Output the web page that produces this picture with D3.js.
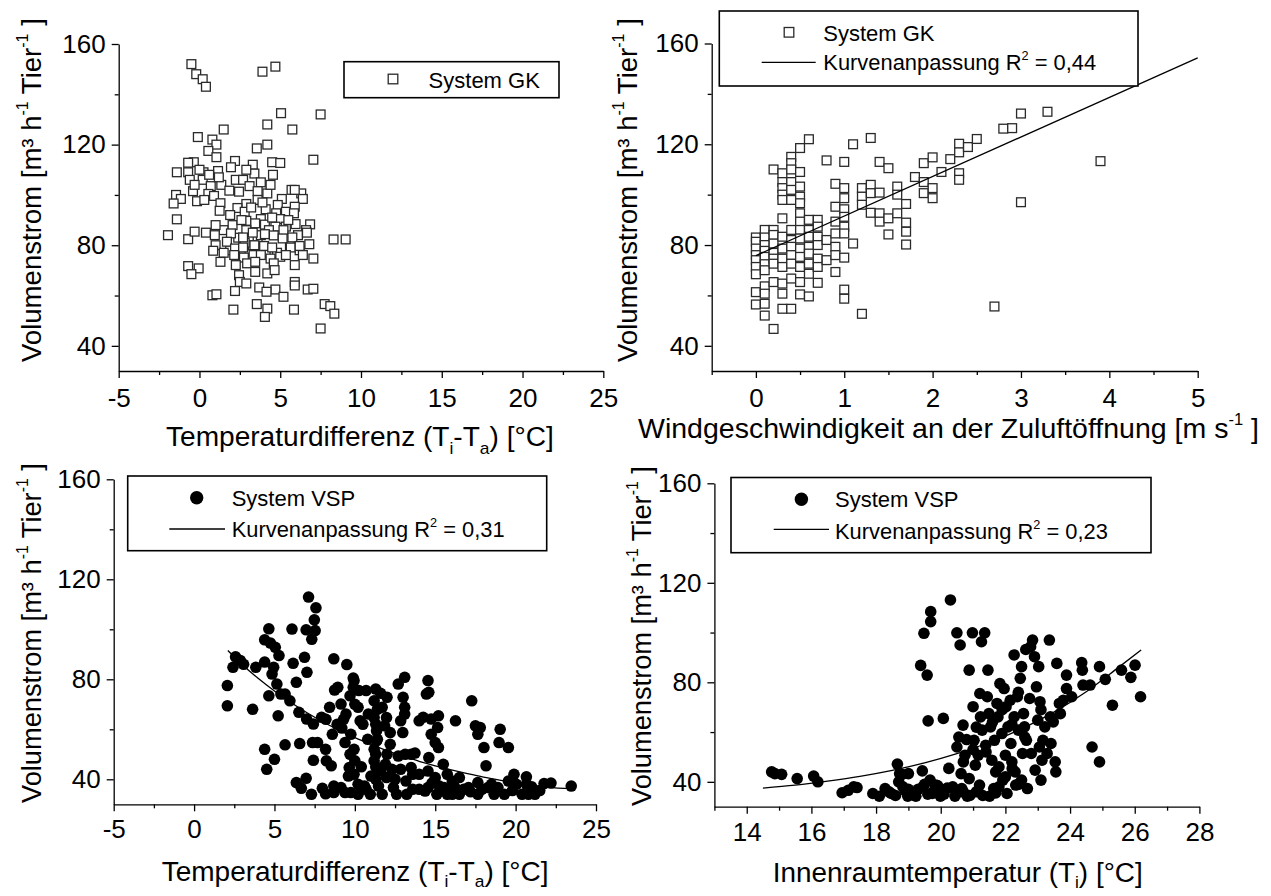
<!DOCTYPE html>
<html><head><meta charset="utf-8">
<script src="https://cdn.jsdelivr.net/npm/d3@7"></script>
<style>
body{margin:0;background:#fff}
svg{display:block}
text{font-family:"Liberation Sans",Arial,sans-serif;fill:#000;white-space:pre}
</style>
</head><body>
<svg id="c" width="1271" height="896"></svg>
<script>
// ---------------- DATA ----------------
const yMajorTicks = [40, 80, 120, 160];
const yMinorTicks = [60, 100, 140];
const tempTicks = [-5, 0, 5, 10, 15, 20, 25];
const tempMinorTicks = [-2.5, 2.5, 7.5, 12.5, 17.5, 22.5];
const windTicks = [0, 1, 2, 3, 4, 5];
const windMinorTicks = [-0.5, 0.5, 1.5, 2.5, 3.5, 4.5];
const innenTicks = [14, 16, 18, 20, 22, 24, 26, 28];
const innenMinorTicks = [13, 15, 17, 19, 21, 23, 25, 27];

// System GK: volume flow vs temperature difference
const gkTempPoints = [
[-0.5,152],[-0.2,148],[0.2,146],[0.4,143],[3.9,149],[4.7,151],[5.05,132.5],[7.5,132],[4.2,128],[1.5,126],[5.75,126],
[-0.1,123],[0.8,122],[1.05,120],[3.55,118.5],[4.2,120],[7.05,114],[0.55,117.5],[1.05,115],[2.2,113.5],[-0.35,113],
[-0.7,112.8],[3.3,112],[4.5,113],[5.0,112.7],[-1.4,109],[-0.7,109],[0.25,109],[1.15,109.5],[4.55,108],[1.95,111],
[3.4,108.5],[-0.6,106],[0.2,106],[0.7,103.5],[2.25,106],[2.7,106],[3.1,103.5],[3.8,105],[-1.45,100],[-1.15,98.4],
[-1.6,96.6],[-0.4,101.5],[-0.15,97.5],[0.55,100.4],[0.9,99.6],[1.35,104],[1.85,101.7],[2.45,101.3],[3.6,101.5],
[4.2,100.6],[5.1,98.4],[5.7,102],[6.3,100.6],[6.4,98.4],[1.3,96.7],[2.9,96.4],[3.6,98],[4.85,96],[5.9,95.3],
[1.25,93.7],[2.35,94.8],[2.8,93.3],[4.1,94.3],[4.75,92.7],[5.35,93.3],[-1.4,90.3],[3.8,90.4],[5.0,90.4],[5.85,92.7],
[6.85,88.3],[1.5,86],[2.05,88],[2.9,89.7],[3.45,88.7],[4.05,88.2],[4.7,87.4],[5.35,87.4],[5.95,88.4],[6.6,86],
[0.0,110],[-0.3,104],[0.6,108],[1.2,107],[2.9,110],[4.4,104],[5.9,102],[0.3,98],[1.9,92],[2.6,90],[3.2,95],[3.9,97],
[4.5,91],[5.5,90],[6.1,84],[2.9,86],[3.6,82],[4.3,86],[5.6,80],[1.9,78],[3.1,78],[4.8,77],[6.2,78],[2.4,83],[3.8,84],
[5.2,86],[1.0,88],[3.3,80],[4.1,77],[2.8,81],
[-1.95,84],[-0.7,82.4],[-0.3,85.4],[0.4,85],[0.95,84],[1.95,84.7],[2.7,83.1],[3.3,85],[4.05,84.4],[4.6,83.9],
[5.15,82.7],[5.75,83.1],[6.65,85],[8.3,82.3],[9.05,82.3],[1.0,80],[1.7,81.4],[2.2,78.7],[2.7,79.1],[3.4,80],[4.0,79.7],
[4.5,79.1],[5.65,79.1],[6.2,79.7],[6.8,80.4],[0.85,77.8],[1.5,77],[2.15,76.1],[2.75,75.1],[3.35,76.1],[3.8,76.1],
[4.4,74.7],[5.0,75.4],[5.35,76.1],[6.4,76.1],[7.05,74.7],[1.3,73.4],[2.25,72.1],[2.95,72.8],[3.45,73.4],[4.6,72.8],
[5.9,72.1],[-0.7,71.7],[-0.05,70.8],[-0.5,68.5],[2.45,68.1],[3.45,69.4],[4.2,68.8],[4.65,70.1],[2.5,65.4],[2.9,64.8],
[5.9,65.4],[5.9,64],[3.7,63.2],[4.7,62.4],[6.7,62.4],[7.05,62.7],[2.2,61.8],[0.8,60.1],[1.05,60.5],[4.15,61.5],
[3.55,56.6],[4.2,54.8],[5.2,59.5],[5.85,54.4],[2.1,54.4],[4.05,51.5],[7.75,56.6],[8.1,55.8],[8.35,52.8],[7.5,46.9]
];

// System GK: volume flow vs wind speed
const gkWindPoints = [
[0,83],[0,81.3],[0,78.6],[0,76],[0,74],[0,71.3],[0,68.4],[0,61.3],[0,56.4],
[0.1,86],[0.1,83],[0.1,80],[0.1,77.7],[0.1,75.3],[0.1,72.4],[0.1,70],[0.1,63.6],[0.1,60.7],[0.1,56.7],[0.1,52],
[0.2,110],[0.2,86],[0.2,84],[0.2,80.6],[0.2,76.9],[0.2,74.6],[0.2,72.6],[0.2,65.3],[0.2,46.7],
[0.3,108.5],[0.3,105],[0.3,102.6],[0.3,100],[0.3,97.9],[0.3,90.6],[0.3,83.3],[0.3,78.6],[0.3,74.6],[0.3,71.3],[0.3,64.7],[0.3,60.7],[0.3,54.7],
[0.4,115],[0.4,112.5],[0.4,110],[0.4,105],[0.4,101.9],[0.4,97.9],[0.4,86],[0.4,82],[0.4,79.3],[0.4,76],[0.4,72.6],[0.4,66.7],[0.4,54.7],
[0.5,118.5],[0.5,109],[0.5,103.2],[0.5,99.2],[0.5,96.6],[0.5,92.6],[0.5,89.3],[0.5,86],[0.5,82.6],[0.5,78.6],[0.5,75.3],[0.5,71.3],[0.5,65.3],[0.5,60.4],
[0.6,122],[0.6,90],[0.6,86],[0.6,83.3],[0.6,79.3],[0.6,76.6],[0.6,72.6],[0.6,68.6],[0.6,59.6],
[0.7,90],[0.7,87.3],[0.7,83.3],[0.7,80],[0.7,74.6],[0.7,71.3],[0.7,65],
[0.8,113.6],[0.8,82],[0.8,74],
[0.9,104.3],[0.9,95.2],[0.9,89.3],[0.9,84.6],[0.9,79.3],[0.9,76],[0.9,69.3],
[1.0,113],[1.0,102.6],[1.0,98.6],[1.0,94.2],[1.0,91.2],[1.0,87.3],[1.0,84.6],[1.0,75],[1.0,62.3],[1.0,58.7],
[1.1,120],[1.1,80.6],[1.2,52.7],[1.2,102.6],[1.2,99.2],[1.2,96],
[1.3,122.5],[1.3,103.9],[1.3,100.6],[1.3,92.8],[1.4,113],[1.4,100.8],[1.4,92.6],[1.4,89.3],
[1.5,110.5],[1.5,90.6],[1.5,84.2],[1.6,103.2],[1.6,100],[1.6,92.6],
[1.7,96.3],[1.7,88.9],[1.7,85.3],[1.7,80.2],[1.8,107],[1.9,112.5],[1.9,105],[1.9,100.6],
[2.0,114.8],[2.0,102.6],[2.0,98.6],[2.1,109],[2.2,114.1],[2.3,120.2],[2.3,116.8],[2.3,108.5],[2.3,105.9],
[2.4,118.9],[2.5,122.1],[2.7,55.6],[2.8,126.2],[2.9,126.4],[3.0,132.2],[3.0,97],[3.3,132.9],[3.9,113.3]
];

// System VSP: volume flow vs temperature difference
const vspTempPoints = [
[2.07,77.5],[2.07,69.4],[2.58,89],[2.42,84.8],[2.88,87.5],[3.08,86],[3.84,84.8],[3.64,68],[4.39,95.8],[4.65,100.2],
[4.39,86.9],[4.85,82.1],[4.75,94.5],[5.05,92.8],[5.28,89.5],[4.95,84.8],[4.65,73.4],[5.15,78.1],[5.4,74.1],[5.23,65.4],
[5.66,74.1],[5.96,71.4],[4.39,52],[5.0,48],[4.52,44],[5.66,53.8],[6.09,100.1],[6.16,86.4],[6.36,78.8],[6.52,66.8],
[6.57,54.3],[7.0,64.1],[6.87,88.8],[7.02,82.8],[6.97,99.8],[7.12,112.9],[7.58,108.6],[7.48,103.8],[7.53,99.5],[7.32,96],
[7.42,62.1],[7.37,54.7],[7.42,47.6],[6.36,38.7],[6.67,36.4],[6.97,40.4],[7.3,34],[7.93,64.8],[7.68,54.7],[8.18,52],
[8.23,47.4],[8.53,45.4],[8.43,68.8],[8.74,75.7],[8.94,76.8],[8.69,88.2],[9.5,85.9],[9.9,80.5],[9.95,79.5],[9.14,70.1],
[9.45,66.1],[9.9,76.8],[10.25,75.5],[9.7,73.4],[10.2,68.8],[10.7,75.5],[9.19,60.5],[9.75,58],[10.33,63.4],[10.84,66.1],
[11.2,71.4],[11.3,76.1],[11.6,74.4],[11.7,68.8],[12.0,72.8],[11.97,64.7],[11.2,64.7],[11.35,59.4],[11.85,61.4],[12.2,58.7],
[9.39,54.7],[9.7,50],[9.95,52],[9.65,44.7],[10.0,47.4],[9.95,42],[10.2,38],[9.6,41.3],[9.14,36.7],[9.39,34.7],
[9.75,34.7],[8.69,34.7],[8.69,37.3],[7.98,36.4],[8.18,34.2],[10.7,36],[10.96,34],[11.0,41.3],[11.2,47.4],[11.2,52],
[11.35,55.4],[11.47,37.3],[11.6,43.3],[11.7,34],[11.9,46],[11.97,40.7],[12.0,50],[12.2,54],[12.4,36.7],[12.6,34],
[12.7,49.3],[12.85,44],[12.98,58.7],[13.13,50],[13.18,39.3],[13.23,34],[13.5,50],[13.5,44.7],[13.74,50.5],[13.6,42],
[14.0,36],[14.0,42],[14.37,35.3],[12.7,78.1],[13.1,80.8],[13.0,72.8],[13.1,68.8],[13.1,66.1],[12.85,63.4],[14.0,63.4],
[14.25,64.8],[14.45,74.1],[14.55,79.5],[14.6,74.8],[14.75,64.1],[15.2,65.4],[15.15,60.7],[15.0,54.7],[14.75,58],[15.2,52.7],
[14.6,48.7],[14.55,43.3],[15.0,40.7],[14.55,36.7],[15.1,34],[15.5,46],[15.55,36.7],[15.75,42],[16.06,39.3],[16.06,34],
[16.26,63.4],[16.5,40.7],[16.77,36],[17.07,36.7],[17.27,71.4],[17.5,61.4],[17.8,60.7],[17.65,58],[18.03,52.7],[18.16,45.4],
[17.65,38.7],[17.9,36],[17.65,34],[18.28,36.7],[18.66,34],[18.9,36.7],[19.04,60],[18.97,54.7],[19.55,52.7],[19.3,34],
[19.55,39.3],[20.05,38],[20.4,34],[20.67,38],[20.8,34],[21.2,34],[21.77,38.3],[23.46,37.3],[20.67,41],[19.9,42],
[16.5,34],[15.75,34],[15.25,37.3],[10.2,34],[10.6,37.3],[11.3,40],[11.3,45],[11.3,50],[11.4,56],[11.3,62],[11.4,68],
[10.4,45],[10.8,56],[10.5,62],[12.3,44],[12.5,40],[8.9,62],[8.6,58],[8.2,64],[9.3,64],[10.0,70],[13.6,36],[14.8,38.5],
[16.2,37],[17.2,35],[18.5,38],[19.8,35.5],[21.0,37],[22.2,38.5],[21.5,35.5]
];

// System VSP: volume flow vs indoor temperature
const vspInnenPoints = [
[14.77,44],[14.87,43.3],[15.08,43],[15.56,41.3],[16.07,42.3],[16.2,40],[16.95,35.6],[17.14,36.6],[17.31,38],[17.41,37.7],
[17.9,35.3],[18.1,34.2],[18.28,37.3],[18.47,35.3],[18.66,47.1],[18.73,43.3],[18.83,38],[18.98,34.2],[19.0,43.3],[19.23,34.2],
[19.38,86.8],[19.43,44.4],[19.45,38],[19.48,99.7],[19.58,82.9],[19.61,64.5],[19.67,40.7],[19.69,108.4],[19.69,104.4],[19.74,35.3],
[19.84,38.7],[19.99,34.2],[20.08,65.5],[20.25,45.4],[20.3,113.1],[20.37,38],[20.44,34.2],[20.5,99.9],[20.5,54],[20.56,58],
[20.6,95],[20.63,43.3],[20.65,37.3],[20.69,62.8],[20.75,50.7],[20.82,34.2],[20.88,84.9],[20.88,41.3],[20.98,99.9],[21.0,70.2],
[21.03,56.7],[21.07,46.7],[21.16,50.7],[21.2,38.7],[21.21,75.5],[21.23,66.1],[21.26,96.3],[21.28,60.8],[21.36,99.9],[21.39,54.7],
[21.44,74.2],[21.46,84.9],[21.49,67.4],[21.51,34.2],[21.54,62.1],[21.58,48.7],[21.64,37.3],[21.66,56.7],[21.7,44],[21.74,71.5],
[21.77,66.1],[21.83,79.5],[21.89,59.4],[21.92,40.7],[21.96,77.5],[22.0,50.7],[22.02,70.2],[22.05,35.3],[22.08,62.1],[22.15,72.8],
[22.17,55.4],[22.21,45.4],[22.27,91],[22.27,66.1],[22.32,38.7],[22.37,74.2],[22.4,60.8],[22.46,81.6],[22.5,86.3],[22.5,40.7],
[22.53,51.4],[22.56,67.4],[22.59,62.1],[22.63,93.2],[22.65,56.7],[22.68,37.3],[22.75,73.5],[22.78,94.3],[22.8,51.4],[22.84,97],
[22.9,90.3],[22.92,44.7],[22.96,78.2],[23.0,64.8],[23.03,86.3],[23.05,54],[23.07,72.2],[23.1,40.7],[23.13,48.7],[23.16,56.7],
[23.22,62.1],[23.29,51.4],[23.36,97],[23.39,66.1],[23.41,55.4],[23.48,64.1],[23.54,48],[23.56,44],[23.59,87.6],[23.67,71.5],
[23.7,67.4],[23.79,72.8],[23.89,82.9],[23.89,77.5],[24.05,74.2],[24.36,87.9],[24.38,84.9],[24.4,78.9],[24.62,78.9],[24.68,54],
[24.91,86.3],[24.91,48],[25.09,81.2],[25.31,70.8],[25.59,84.9],[25.88,82],[26.01,86.9],[26.18,74.2],
[18.4,36],[18.6,34.5],[18.9,36.5],[19.1,35],[19.3,37],[19.6,35],[19.8,36.5],[20.1,35],[20.2,37.5],[20.5,35.5],[20.7,36],
[20.9,34.5],[21.1,36],[21.3,34.5],[21.7,35.5],[21.8,38],[22.0,42],[22.2,48],[22.4,39],[19.9,38.5],[19.5,39],[18.7,40],
[18.8,43],[19.0,37],[21.0,53],[21.1,62],[20.8,57],[20.7,48],[21.6,64],[21.9,69],[22.2,63],[22.6,58],[22.4,76],[23.1,69],
[21.4,52],[21.8,46],[22.3,44]
];

// fitted curves
const fitWindX = [0, 5];
const fitWindY = [75.8, 154.3];
const fitTempX = [2.1, 3, 4, 5, 6, 7, 8, 9, 10, 11, 12, 13, 14, 15, 16, 17, 18, 19, 20, 21, 22, 23.5];
const fitTempY = [91.5, 85.8, 80.3, 75.3, 70.8, 66.7, 63, 59.7, 56.7, 54, 51.5, 49.3, 47.2, 45.4, 43.8, 42.3, 40.9, 39.7, 38.6, 37.6, 36.8, 36.3];
const fitInnenX = [14.5, 15.5, 16.5, 17.5, 18.5, 19.5, 20.5, 21.5, 22.5, 23.5, 24.5, 25.5, 26.2];
const fitInnenY = [37.5, 38.7, 40.3, 42.2, 44.6, 47.6, 51.3, 55.8, 61.3, 68, 76.2, 86, 93];

const seriesGK = "System GK";
const seriesVSP = "System VSP";
const fitLabel = "Kurvenanpassung R";
const r2Values = ["0,44", "0,31", "0,23"];

// ---------------- DRAWING ----------------
const svg = d3.select("#c");
const TICK_FS = 26, TITLE_FS = 28, LEG_FS = 22;
const FONT = '"Liberation Sans",Arial,sans-serif';

function richText(parent, x, y, parts, size, targetLen, rot, subShift) {
  const g = parent.append("g");
  const t = g.append("text").attr("font-size", size);
  let shift = 0;
  parts.forEach(p => {
    let target = 0, fs = size;
    if (p[1] === "sup") { target = -0.45 * size; fs = size * 0.58; }
    else if (p[1] === "sub") { target = (subShift || 0.28) * size; fs = size * 0.62; }
    t.append("tspan").attr("dy", target - shift).attr("font-size", fs).text(p[0]);
    shift = target;
  });
  let s = 1;
  if (targetLen) {
    const w = t.node().getComputedTextLength();
    s = targetLen / w;
  }
  g.attr("transform", `translate(${x},${y})` + (rot ? ` rotate(${rot})` : "") + ` scale(${s},1)`);
  return g;
}

const yLabelParts = [["Volumenstrom [m³ h"], ["-1", "sup"], [" Tier"], ["-1", "sup"], [" ]"]];
const tempTitleParts = [["Temperaturdifferenz (T"], ["i", "sub"], ["-T"], ["a", "sub"], [") [°C]"]];
const windTitleParts = [["Windgeschwindigkeit an der Zuluftöffnung [m s"], ["-1", "sup"], [" ]"]];
const innenTitleParts = [["Innenraumtemperatur (T"], ["i", "sub"], [") [°C]"]];

const panels = [
  { pts: gkTempPoints, marker: "square", xDomain: [-5, 25], xr: [118.7, 603.3], yr: [371, 44],
    xMajor: tempTicks, xMinor: tempMinorTicks, xPad: 11,
    title: tempTitleParts, tX: 166, tY: 446, tLen: 388,
    yl: { x: 41, y: 362, len: 344 },
    legend: { box: [344, 61.7, 559, 97.7], m: [393, 79], tx: 428.6, t1: 87.5 } },
  { pts: gkWindPoints, marker: "square", xDomain: [-0.5, 5], xr: [711.7, 1197.7], yr: [371, 43.5],
    xMajor: windTicks, xMinor: windMinorTicks, xPad: 10.5,
    title: windTitleParts, tX: 638, tY: 438, tLen: 621,
    yl: { x: 637, y: 362, len: 344 },
    fit: [fitWindX, fitWindY], fitCurve: d3.curveLinear, r2: r2Values[0],
    legend: { box: [719.3, 11, 1138, 86], m: [789, 32.3], tx: 823.3, t1: 40.5, line: [761.7, 815.7, 62.3], t2: 70 } },
  { pts: vspTempPoints, marker: "circle", xDomain: [-5, 25], xr: [113.7, 596], yr: [804.3, 479.3],
    xMajor: tempTicks, xMinor: tempMinorTicks, xPad: 8,
    title: tempTitleParts, tX: 161.7, tY: 881, tLen: 387, sub: 0.22,
    yl: { x: 41, y: 803, len: 340 },
    fit: [fitTempX, fitTempY], fitCurve: d3.curveMonotoneX, r2: r2Values[1],
    legend: { box: [127.7, 476, 546.7, 550.7], m: [196.7, 497.7], tx: 231.7, t1: 505.5, line: [169.3, 225, 529], t2: 537 } },
  { pts: vspInnenPoints, marker: "circle", xDomain: [13, 28], xr: [714.4, 1199.4], yr: [806.7, 483.3],
    xMajor: innenTicks, xMinor: innenMinorTicks, xPad: 9,
    title: innenTitleParts, tX: 772.8, tY: 882, tLen: 370, sub: 0.2,
    yl: { x: 651, y: 806, len: 340 },
    fit: [fitInnenX, fitInnenY], fitCurve: d3.curveMonotoneX, r2: r2Values[2],
    legend: { box: [731, 477.5, 1151, 552.7], m: [801.4, 499.3], tx: 835, t1: 507, line: [773.7, 829, 529.3], t2: 538.5 } }
];

panels.forEach(P => {
  const g = svg.append("g");
  const x = d3.scaleLinear().domain(P.xDomain).range(P.xr);
  const y = d3.scaleLinear().domain([30, 160]).range(P.yr);

  // points
  if (P.marker === "square") {
    const s = 8.8;
    g.append("g").selectAll("rect").data(P.pts).join("rect")
      .attr("x", d => x(d[0]) - s / 2).attr("y", d => y(d[1]) - s / 2)
      .attr("width", s).attr("height", s)
      .attr("fill", "#fff").attr("stroke", "#2a2a2a").attr("stroke-width", 1.3);
  } else {
    g.append("g").selectAll("circle").data(P.pts).join("circle")
      .attr("cx", d => x(d[0])).attr("cy", d => y(d[1])).attr("r", 5.8).attr("fill", "#000");
  }
  // fit
  if (P.fit) {
    const fx = P.fit[0], fy = P.fit[1];
    const line = d3.line().x((d, i) => x(fx[i])).y((d, i) => y(fy[i])).curve(P.fitCurve);
    g.append("path").attr("d", line(fx)).attr("fill", "none").attr("stroke", "#000").attr("stroke-width", 1.3);
  }

  // axes
  const fmt = d => String(d);
  const xAxis = g.append("g").attr("transform", `translate(0,${P.yr[0]})`)
    .call(d3.axisBottom(x).tickValues(P.xMajor).tickSize(7).tickSizeOuter(0).tickPadding(P.xPad).tickFormat(fmt));
  xAxis.selectAll("text").attr("font-size", TICK_FS).attr("font-family", null).style("font-family", FONT);
  g.append("g").attr("transform", `translate(0,${P.yr[0]})`)
    .call(d3.axisBottom(x).tickValues(P.xMinor).tickSize(4).tickFormat(""))
    .call(a => a.select(".domain").remove());
  const yAxis = g.append("g").attr("transform", `translate(${P.xr[0]},0)`)
    .call(d3.axisLeft(y).tickValues(yMajorTicks).tickSize(7).tickSizeOuter(0).tickPadding(6).tickFormat(fmt));
  yAxis.selectAll("text").attr("font-size", TICK_FS).attr("font-family", null).style("font-family", FONT);
  g.append("g").attr("transform", `translate(${P.xr[0]},0)`)
    .call(d3.axisLeft(y).tickValues(yMinorTicks).tickSize(4).tickFormat(""))
    .call(a => a.select(".domain").remove());
  g.selectAll(".domain, .tick line").attr("stroke", "#000").attr("stroke-width", 1.3);

  // titles
  richText(g, P.tX, P.tY, P.title, TITLE_FS, P.tLen, 0, P.sub);
  richText(g, P.yl.x, P.yl.y, yLabelParts, TITLE_FS, P.yl.len, -90);

  // legend
  const L = P.legend;
  const lg = g.append("g");
  lg.append("rect").attr("x", L.box[0]).attr("y", L.box[1]).attr("width", L.box[2] - L.box[0]).attr("height", L.box[3] - L.box[1])
    .attr("fill", "#fff").attr("stroke", "#000").attr("stroke-width", 1.6);
  if (P.marker === "square") {
    lg.append("rect").attr("x", L.m[0] - 4.8).attr("y", L.m[1] - 4.8).attr("width", 9.6).attr("height", 9.6)
      .attr("fill", "#fff").attr("stroke", "#2a2a2a").attr("stroke-width", 1.3);
  } else {
    lg.append("circle").attr("cx", L.m[0]).attr("cy", L.m[1]).attr("r", 6.7).attr("fill", "#000");
  }
  lg.append("text").attr("x", L.tx).attr("y", L.t1).attr("font-size", LEG_FS)
    .text(P.marker === "square" ? seriesGK : seriesVSP);
  if (L.line) {
    lg.append("line").attr("x1", L.line[0]).attr("x2", L.line[1]).attr("y1", L.line[2]).attr("y2", L.line[2])
      .attr("stroke", "#000").attr("stroke-width", 1.3);
    richText(lg, L.tx, L.t2, [[fitLabel], ["2", "sup"], [" = " + P.r2]], LEG_FS, 273, 0);
  }
});
</script>
</body></html>
